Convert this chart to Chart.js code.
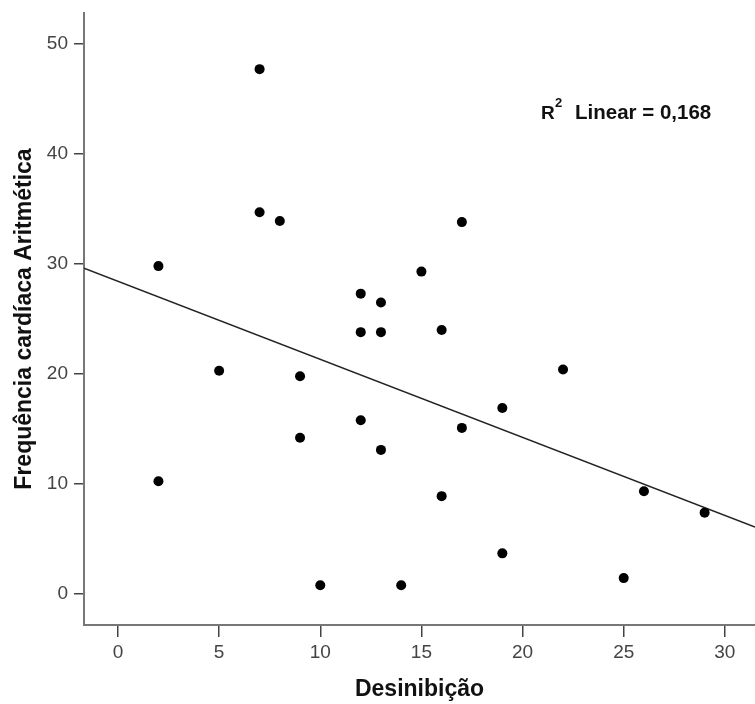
<!DOCTYPE html>
<html>
<head>
<meta charset="utf-8">
<script src="https://cdn.jsdelivr.net/npm/chart.js@4"></script>
<style>
  body { margin: 0; background: #fff; }
  #wrap { width: 755px; height: 704px; }
</style>
</head>
<body>
<div id="wrap"><canvas id="myChart" width="755" height="704"></canvas></div>
<script>
// Desinibição (x) vs Frequência cardíaca Aritmética (y)
let desinibicao = [2, 2, 5, 7, 7, 8, 9, 9, 10, 12, 12, 12, 13, 13, 13, 14, 15, 16, 16, 17, 17, 19, 19, 22, 25, 26, 29]
let frequencia = [29.8, 10.25, 20.3, 47.7, 34.7, 33.9, 19.8, 14.2, 0.8, 27.3, 23.8, 15.8, 26.5, 23.8, 13.1, 0.8, 29.3, 24.0, 8.9, 33.8, 15.1, 16.9, 3.7, 20.4, 1.45, 9.35, 7.4]

// fit line ends at the plot edges
let fitX = [-1.68, 31.49]
let fitY = [29.6, 6.1]

let xTicks = [0, 5, 10, 15, 20, 25, 30]
let yTicks = [0, 10, 20, 30, 40, 50]

let points = desinibicao.map((v, i) => ({ x: v, y: frequencia[i] }))
let fitLine = fitX.map((v, i) => ({ x: v, y: fitY[i] }))

const fontFam = '"Liberation Sans", Arial, sans-serif'

const r2Label = {
  id: 'r2Label',
  afterDraw(chart) {
    let ctx = chart.ctx
    ctx.save()
    ctx.fillStyle = '#111'
    ctx.textBaseline = 'alphabetic'
    ctx.textAlign = 'left'
    ctx.font = 'bold 19px ' + fontFam
    ctx.fillText('R', 541, 119)
    ctx.font = 'bold 13px ' + fontFam
    ctx.fillText('2', 555, 107)
    ctx.font = 'bold 20.5px ' + fontFam
    ctx.fillText('Linear = 0,168', 575, 119)
    ctx.restore()
  }
}

let ctx = document.querySelector('#myChart').getContext('2d')
let myChart = new Chart(ctx, {
  data: {
    datasets: [{
      type: 'scatter',
      data: points,
      pointRadius: 5,
      pointHoverRadius: 5,
      backgroundColor: '#000',
      borderColor: '#000',
      borderWidth: 0
    }, {
      type: 'line',
      data: fitLine,
      pointRadius: 0,
      borderColor: '#222',
      borderWidth: 1.5,
      fill: false
    }]
  },
  options: {
    responsive: false,
    animation: false,
    layout: { autoPadding: false, padding: { top: 13, right: 0, left: 0, bottom: 0 } },
    plugins: { legend: { display: false }, tooltip: { enabled: false } },
    scales: {
      x: {
        type: 'linear',
        min: -1.68,
        max: 31.49,
        afterFit(s) { s.height = 79; s.paddingLeft = 0; s.paddingRight = 0 },
        afterBuildTicks(s) { s.ticks = xTicks.map(v => ({ value: v })) },
        border: { color: '#777', width: 2 },
        grid: { drawOnChartArea: false, drawTicks: true, tickLength: 12, color: '#444', lineWidth: 1.5 },
        ticks: { color: '#444', padding: 4, font: { family: fontFam, size: 19 } },
        title: {
          display: true,
          text: 'Desinibição',
          color: '#111',
          padding: { top: 0, bottom: 1 },
          font: { family: fontFam, size: 23, weight: 'bold' }
        }
      },
      y: {
        type: 'linear',
        min: -2.81,
        max: 52.8,
        afterFit(s) { s.width = 84; s.paddingTop = 0; s.paddingBottom = 0 },
        afterBuildTicks(s) { s.ticks = yTicks.map(v => ({ value: v })) },
        border: { color: '#777', width: 2 },
        grid: { drawOnChartArea: false, drawTicks: true, tickLength: 10, color: '#444', lineWidth: 1.5 },
        ticks: { color: '#444', padding: 6, font: { family: fontFam, size: 19 } },
        title: {
          display: true,
          text: 'Frequência cardíaca Aritmética',
          color: '#111',
          padding: { top: 11, bottom: 0 },
          font: { family: fontFam, size: 23, weight: 'bold' }
        }
      }
    }
  },
  plugins: [r2Label]
})
</script>
</body>
</html>
